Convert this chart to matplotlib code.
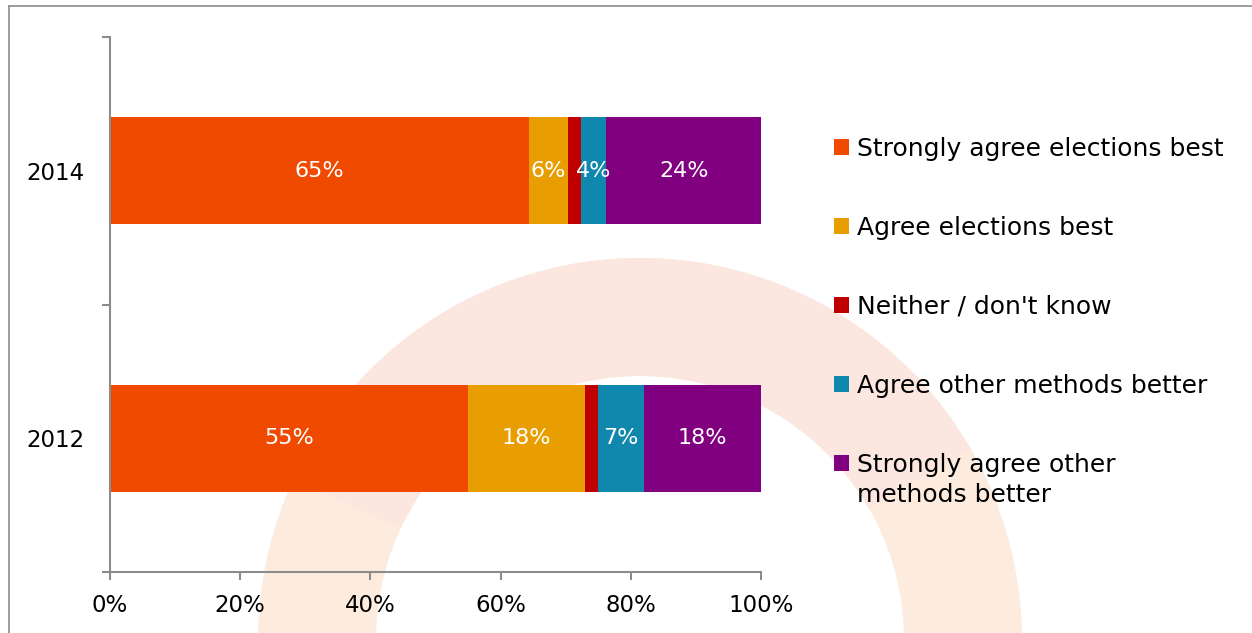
import matplotlib
matplotlib.use("Agg")
import matplotlib.pyplot as plt
import numpy as np
from matplotlib.patches import Wedge
from matplotlib.lines import Line2D

years = ["2012", "2014"]
series = ["Strongly agree elections best", "Agree elections best",
          "Neither / don't know", "Agree other methods better",
          "Strongly agree other methods better"]
legend_first = ["Strongly agree elections best", "Agree elections best",
                "Neither / don't know", "Agree other methods better",
                "Strongly agree other"]
legend_second = "methods better"
# values per series for [2012, 2014]
strongly_elections = [55, 65]
agree_elections = [18, 6]
neither = [2, 2]
agree_other = [7, 4]
strongly_other = [18, 24]
show_label = [True, True, False, True, True]
colors = ["#F04A00", "#E89E00", "#C00000", "#1087AC", "#800080"]
xticks = [0, 20, 40, 60, 80, 100]

data = np.array([strongly_elections, agree_elections, neither, agree_other, strongly_other], dtype=float)
totals = data.sum(axis=0)
pct = data / totals * 100

W, H = 1252, 633
plt.rcParams['font.family'] = ['DejaVu Sans']
fig = plt.figure(figsize=(W / 100, H / 100), dpi=100)

# faint watermark ring in background
bg = fig.add_axes([0, 0, 1, 1], zorder=-5)
bg.set_xlim(0, W)
bg.set_ylim(H, 0)
bg.axis('off')
bg.add_patch(Wedge((640, 640), 382, 0, 360, width=118, facecolor="#FDEBDD", edgecolor="none"))
bg.add_patch(Wedge((640, 640), 382, 205, 330, width=118, facecolor="#FCE6E0", edgecolor="none"))
bg.add_line(Line2D([9, 9], [6, H], color="#8C8C8C", lw=1.2))
bg.add_line(Line2D([9, W], [6, 6], color="#8C8C8C", lw=1.2))

ax = fig.add_axes([110 / W, 1 - 572 / H, (761 - 110) / W, (572 - 37) / H])
ax.patch.set_alpha(0)
ypos = np.arange(len(years))
left = np.zeros(len(years))
for i in range(len(series)):
    ax.barh(ypos, pct[i], left=left, height=0.4, color=colors[i], label=legend_first[i],
            edgecolor="none")
    if show_label[i]:
        for j in range(len(years)):
            ax.text(left[j] + pct[i][j] / 2, ypos[j], f"{data[i][j]:.0f}%", ha="center", va="center",
                    color="white", fontsize=16)
    left += pct[i]

ax.set_xlim(0, 100)
ax.set_ylim(-0.5, 1.5)
ax.set_xticks(xticks)
ax.set_xticklabels([f"{t}%" for t in xticks], fontsize=16.5)
ax.set_yticks([-0.5, 0.5, 1.5])
ax.set_yticklabels([])
ax.set_yticks(ypos, minor=True)
ax.set_yticklabels(years, minor=True, fontsize=16.5)
ax.tick_params(axis='y', which='minor', length=0, pad=18)
ax.tick_params(axis='y', which='major', length=6, width=1.5, color="#8C8C8C")
ax.tick_params(axis='x', length=6, width=1.5, color="#8C8C8C", pad=10)
for s in ["top", "right"]:
    ax.spines[s].set_visible(False)
for s in ["left", "bottom"]:
    ax.spines[s].set_color("#8C8C8C")
    ax.spines[s].set_linewidth(1.5)

handles, labels = ax.get_legend_handles_labels()
leg = fig.legend(handles, labels, loc="upper left", bbox_to_anchor=(834 / W, 1 - 137 / H),
                 frameon=False, fontsize=18, labelspacing=2.2, handlelength=0.6,
                 handleheight=0.6, handletextpad=0.3, borderaxespad=0, borderpad=0)

fig.canvas.draw()
last = leg.get_texts()[-1]
bb = last.get_window_extent()
fig.text(bb.x0 / W, (bb.y0 - 30) / H, legend_second, fontsize=18, ha="left", va="bottom",
         transform=fig.transFigure)

fig.savefig("out.png", dpi=100)
